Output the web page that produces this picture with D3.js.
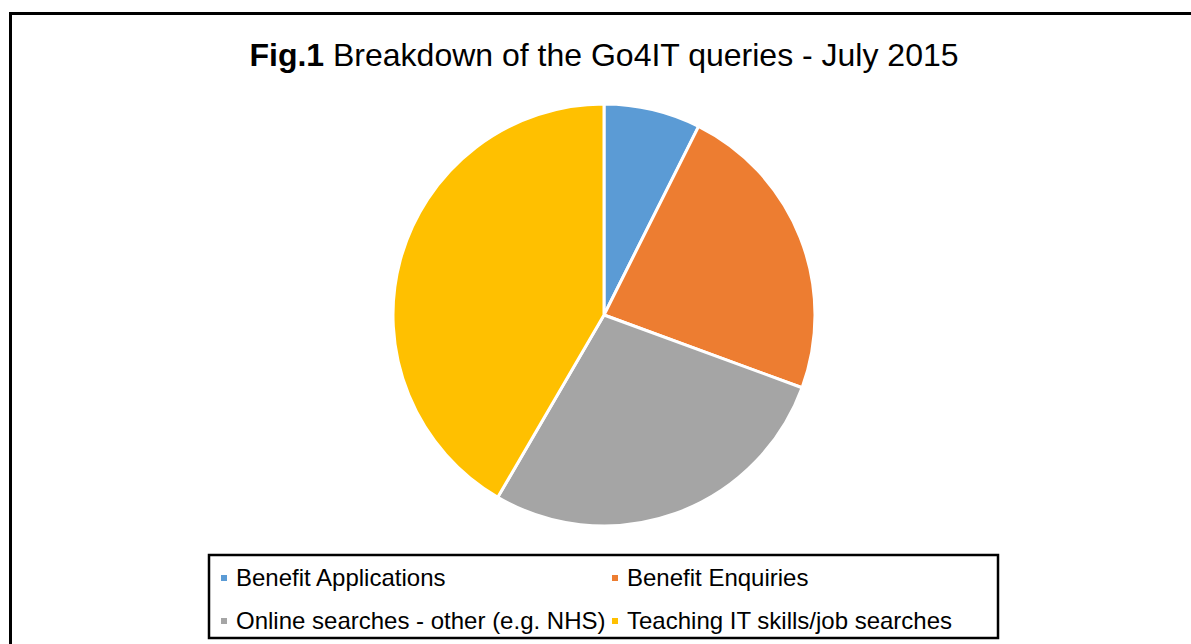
<!DOCTYPE html>
<html>
<head>
<meta charset="utf-8">
<script src="https://cdn.jsdelivr.net/npm/d3@7"></script>
<style>
  html, body { margin: 0; padding: 0; background: #fff; }
  svg { display: block; }
</style>
</head>
<body>
<svg id="chart" width="1191" height="644"></svg>
<script>
const categories = ["Benefit Applications", "Benefit Enquiries", "Online searches - other (e.g. NHS)", "Teaching IT skills/job searches"];
const values = [7.4, 23.2, 27.8, 41.6];
const colors = ["#5B9BD5", "#ED7D31", "#A5A5A5", "#FFC000"];

const svg = d3.select("#chart");
const font = "Arial, 'Liberation Sans', sans-serif";

// outer frame
svg.append("rect").attr("x", 10.5).attr("y", 13.5).attr("width", 1200).attr("height", 700)
  .attr("fill", "none").attr("stroke", "#000").attr("stroke-width", 3);

// title
const title = svg.append("text").attr("x", 604).attr("y", 66).attr("text-anchor", "middle")
  .attr("font-family", font).attr("font-size", 32).attr("fill", "#000");
title.append("tspan").attr("font-weight", "bold").text("Fig.1");
title.append("tspan").text(" Breakdown of the Go4IT queries - July 2015");

// pie
const cx = 604, cy = 315, r = 211;
const pie = d3.pie().sort(null).value(d => d.v);
const arc = d3.arc().innerRadius(0).outerRadius(r);
const data = categories.map((c, i) => ({c, v: values[i], col: colors[i]}));
svg.append("g").attr("transform", `translate(${cx},${cy})`)
  .selectAll("path").data(pie(data)).join("path")
  .attr("d", arc).attr("fill", d => d.data.col)
  .attr("stroke", "#fff").attr("stroke-width", 3).attr("stroke-linejoin", "round");

// legend
svg.append("rect").attr("x", 209).attr("y", 555).attr("width", 789).attr("height", 83)
  .attr("fill", "#fff").attr("stroke", "#000").attr("stroke-width", 2.5);
const colX = [221, 612], rowY = [578, 621];
const lg = svg.append("g");
data.forEach((d, i) => {
  const x = colX[i % 2], y = rowY[Math.floor(i / 2)];
  lg.append("rect").attr("x", x).attr("y", y - 3).attr("width", 6).attr("height", 6).attr("fill", d.col);
  lg.append("text").attr("x", x + 15).attr("y", y + 8).attr("font-family", font).attr("font-size", 24)
    .attr("fill", "#000").text(d.c);
});
</script>
</body>
</html>
